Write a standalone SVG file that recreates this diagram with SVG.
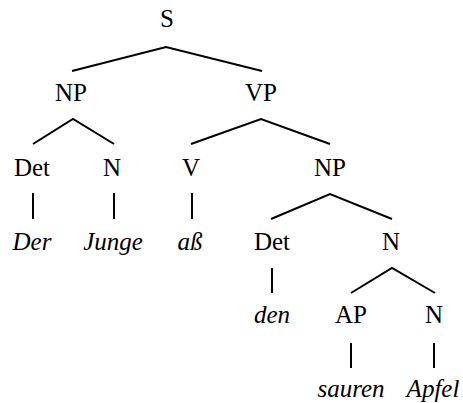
<svg xmlns="http://www.w3.org/2000/svg" width="463" height="403" viewBox="0 0 463 403">
<style>
text{font-family:"Liberation Serif","Times New Roman",serif;font-size:25px;fill:#000;text-anchor:middle}
.w{font-style:italic}
.e{stroke:#000;stroke-width:2;fill:none}
</style>
<rect width="463" height="403" fill="#fff"/>
<g id="connectors">
<polyline class="e" points="72,71 166,47 262,71"/>
<polyline class="e" points="33,144 73,119 114,144"/>
<polyline class="e" points="191,144 261,119 330,144"/>
<line class="e" x1="33" y1="193" x2="33" y2="219"/>
<line class="e" x1="114" y1="193" x2="114" y2="219"/>
<line class="e" x1="192" y1="193" x2="192" y2="219"/>
<polyline class="e" points="271,219 330,194 392,219"/>
<line class="e" x1="272" y1="268" x2="272" y2="293"/>
<polyline class="e" points="351,293 392,268 435,293"/>
<line class="e" x1="351" y1="343" x2="351" y2="368"/>
<line class="e" x1="434" y1="343" x2="434" y2="368"/>
</g>
<g id="S"><text x="167" y="27">S</text></g>
<g id="NP1"><text x="71" y="101">NP</text></g>
<g id="VP"><text x="261" y="101">VP</text></g>
<g id="Det1"><text x="32" y="176">Det</text></g>
<g id="N1"><text x="112" y="176">N</text></g>
<g id="V"><text x="191" y="176">V</text></g>
<g id="NP2"><text x="330" y="176">NP</text></g>
<g id="Der"><text class="w" x="32" y="250">Der</text></g>
<g id="Junge"><text class="w" x="113" y="250">Junge</text></g>
<g id="ass"><text class="w" x="190" y="250">aß</text></g>
<g id="Det2"><text x="272" y="250">Det</text></g>
<g id="N2"><text x="391" y="250">N</text></g>
<g id="den"><text class="w" x="272" y="323">den</text></g>
<g id="AP"><text x="351" y="323">AP</text></g>
<g id="N3"><text x="434" y="323">N</text></g>
<g id="sauren"><text class="w" x="351" y="397">sauren</text></g>
<g id="Apfel"><text class="w" x="433" y="397">Apfel</text></g>
</svg>
